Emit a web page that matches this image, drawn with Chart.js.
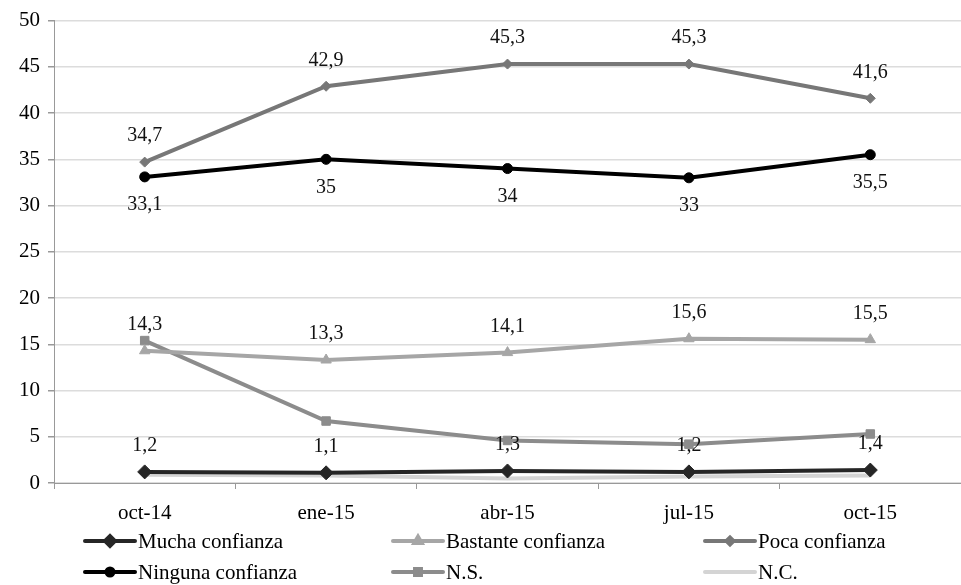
<!DOCTYPE html>
<html>
<head>
<meta charset="utf-8">
<script src="https://cdn.jsdelivr.net/npm/chart.js@4.4.1/dist/chart.umd.min.js"></script>
<style>
  html, body { margin: 0; padding: 0; background: #fff; }
  #wrap { width: 961px; height: 585px; }
</style>
</head>
<body>
<div id="wrap"><canvas id="confChart"></canvas></div>
<script>
// data
let months = ['oct-14', 'ene-15', 'abr-15', 'jul-15', 'oct-15'];
let mucha = [1.2, 1.1, 1.3, 1.2, 1.4];
let bastante = [14.3, 13.3, 14.1, 15.6, 15.5];
let poca = [34.7, 42.9, 45.3, 45.3, 41.6];
let ninguna = [33.1, 35, 34, 33, 35.5];
let ns = [15.4, 6.7, 4.6, 4.2, 5.3];
let nc = [0.9, 0.8, 0.5, 0.7, 0.8];
let yTicks = [0, 5, 10, 15, 20, 25, 30, 35, 40, 45, 50];

let serif = '"Liberation Serif", "Times New Roman", serif';

// values on top of / under the points
let valueLabels = {
    id: 'valueLabels',
    afterDatasetsDraw(chart) {
        let ctx = chart.ctx;
        ctx.save();
        ctx.font = '20px ' + serif;
        ctx.fillStyle = '#111';
        ctx.textAlign = 'center';
        ctx.textBaseline = 'middle';
        chart.data.datasets.forEach((ds, i) => {
            if (!ds.labelPos) return;
            chart.getDatasetMeta(i).data.forEach((pt, j) => {
                let txt = String(ds.data[j]).replace('.', ',');
                let dy = ds.labelPos === 'above' ? -26 : 28;
                ctx.fillText(txt, pt.x, pt.y + dy);
            });
        });
        ctx.restore();
    }
};

// three column legend under the axis
let legendGrid = {
    id: 'legendGrid',
    afterDraw(chart) {
        let ctx = chart.ctx;
        let cols = [85, 393, 705];
        let rows = [541, 572];
        ctx.save();
        ctx.font = '21px ' + serif;
        ctx.textBaseline = 'middle';
        chart.data.datasets.forEach((ds, i) => {
            let x = cols[i % 3];
            let y = rows[Math.floor(i / 3)];
            ctx.strokeStyle = ds.borderColor;
            ctx.lineWidth = 4;
            ctx.lineCap = 'round';
            ctx.beginPath();
            ctx.moveTo(x, y);
            ctx.lineTo(x + 50, y);
            ctx.stroke();
            if (ds.pointRadius > 0) {
                ctx.fillStyle = ds.pointBackgroundColor;
                ctx.strokeStyle = ds.pointBackgroundColor;
                Chart.helpers.drawPoint(ctx, {
                    pointStyle: ds.pointStyle,
                    radius: ds.pointRadius * 0.7,
                    rotation: 0,
                    borderWidth: 1
                }, x + 25, y);
            }
            ctx.fillStyle = '#000';
            ctx.fillText(ds.label, x + 53, y + 1);
        });
        ctx.restore();
    }
};

let ctx = document.getElementById('confChart').getContext('2d');

function series(label, data, color, style, radius, labelPos) {
    return {
        label: label,
        data: data,
        borderColor: color,
        backgroundColor: color,
        pointBackgroundColor: color,
        pointBorderColor: color,
        borderWidth: 4,
        pointStyle: style,
        pointRadius: radius,
        pointBorderWidth: 1,
        tension: 0,
        labelPos: labelPos
    };
}

let confChart = new Chart(ctx, {
    type: 'line',
    data: {
        labels: months,
        datasets: [
            series('Mucha confianza', mucha, '#262626', 'rectRot', 7, 'above'),
            series('Bastante confianza', bastante, '#a6a6a6', 'triangle', 6, 'above'),
            series('Poca confianza', poca, '#777777', 'rectRot', 5, 'above'),
            series('Ninguna confianza', ninguna, '#000000', 'circle', 5, 'below'),
            series('N.S.', ns, '#8c8c8c', 'rect', 6, null),
            series('N.C.', nc, '#d4d4d4', 'circle', 0, null)
        ]
    },
    options: {
        responsive: true,
        maintainAspectRatio: false,
        animation: false,
        layout: {
            autoPadding: false,
            padding: { top: 13, right: -12, bottom: 54, left: 0 }
        },
        plugins: {
            legend: { display: false },
            tooltip: { enabled: false }
        },
        scales: {
            x: {
                offset: true,
                afterFit: (axis) => { axis.height = 48; },
                grid: {
                    offset: true,
                    drawOnChartArea: false,
                    tickLength: 6,
                    color: '#999'
                },
                border: { color: '#999', width: 1 },
                ticks: {
                    color: '#000',
                    padding: 12,
                    font: { family: serif, size: 21 }
                }
            },
            y: {
                min: 0,
                max: 50,
                afterFit: (axis) => { axis.width = 54; },
                afterBuildTicks: (axis) => {
                    axis.ticks = yTicks.map(v => ({ value: v }));
                },
                grid: {
                    color: '#dcdcdc',
                    lineWidth: 1.5,
                    tickLength: 6,
                    tickColor: '#999'
                },
                border: { color: '#999', width: 1 },
                ticks: {
                    color: '#000',
                    padding: 8,
                    font: { family: serif, size: 21 }
                }
            }
        }
    },
    plugins: [valueLabels, legendGrid]
});
</script>
</body>
</html>
